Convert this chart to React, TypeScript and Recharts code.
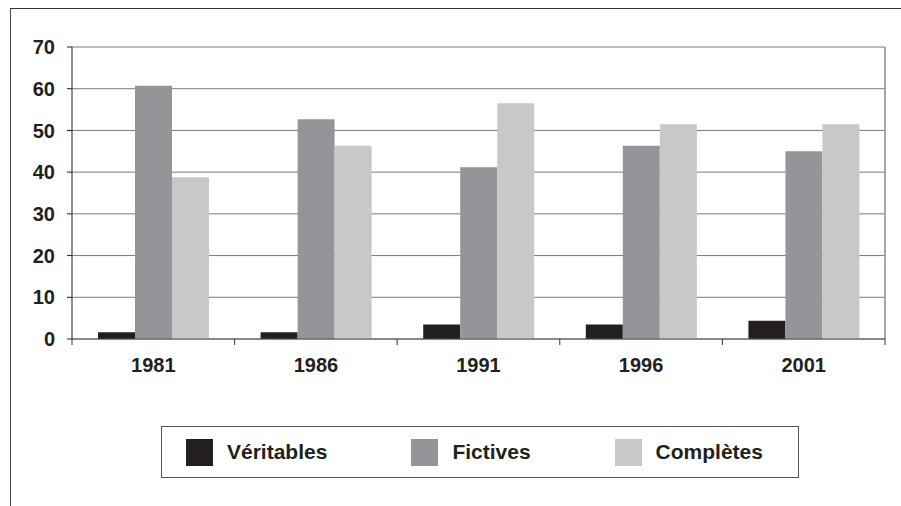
import React from 'react';
import { BarChart, Bar, XAxis, YAxis, CartesianGrid } from 'recharts';

const years = ['1981', '1986', '1991', '1996', '2001'];
const veritables = [1.6, 1.6, 3.5, 3.5, 4.4];
const fictives = [60.7, 52.7, 41.2, 46.3, 45.0];
const completes = [38.8, 46.3, 56.5, 51.5, 51.5];
const yTicks = [0, 10, 20, 30, 40, 50, 60, 70];

const series = [
  { key: 'veritables', name: 'Véritables', color: '#231f20' },
  { key: 'fictives', name: 'Fictives', color: '#939598' },
  { key: 'completes', name: 'Complètes', color: '#c7c8ca' },
];

const data = years.map((year, i) => ({
  year,
  veritables: veritables[i],
  fictives: fictives[i],
  completes: completes[i],
}));

const FONT = '"Liberation Sans", Arial, sans-serif';
const X_TICK_SIZE = 6;
const X_TICK_MARGIN = 13;

// label at the band centre, tick marks on the band edges (Excel style)
function YearTick(props: any) {
  const { x, y, payload, index, visibleTicksCount, width } = props;
  const half = width / visibleTicksCount / 2;
  const axisY = y - X_TICK_SIZE - X_TICK_MARGIN;
  return (
    <g>
      <line x1={x - half} x2={x - half} y1={axisY} y2={axisY + X_TICK_SIZE} stroke="#333" />
      {index === visibleTicksCount - 1 && (
        <line x1={x + half} x2={x + half} y1={axisY} y2={axisY + X_TICK_SIZE} stroke="#333" />
      )}
      <text
        x={x}
        y={y}
        dy="0.71em"
        textAnchor="middle"
        fill="#231f20"
        fontSize={20}
        fontWeight={700}
        fontFamily={FONT}
      >
        {payload.value}
      </text>
    </g>
  );
}

export default function App() {
  return (
    <div style={{ position: 'absolute', left: 0, top: 0, width: 901, height: 506, background: '#fff', overflow: 'hidden' }}>
      {/* outer frame: only top and left edges are visible */}
      <div
        style={{
          position: 'absolute',
          left: 10,
          top: 8,
          width: 900,
          height: 510,
          borderTop: '1.5px solid #333',
          borderLeft: '1.5px solid #444',
        }}
      />
      <BarChart
        width={901}
        height={506}
        data={data}
        margin={{ top: 47, right: 16, bottom: 137, left: 0 }}
        barCategoryGap="16%"
        barGap={0}
        style={{ position: 'absolute', left: 0, top: 0 }}
      >
        <CartesianGrid horizontal vertical={false} stroke="#7a7a7a" strokeWidth={1} />
        {/* right edge of the plot area */}
        <CartesianGrid
          horizontal={false}
          vertical
          stroke="#8a8a8a"
          strokeWidth={1.5}
          verticalCoordinatesGenerator={({ offset }: any) => [offset.left + offset.width]}
        />
        <XAxis
          dataKey="year"
          height={30}
          interval={0}
          axisLine={{ stroke: '#555' }}
          tickLine={{ stroke: 'none' }}
          tickSize={X_TICK_SIZE}
          tickMargin={X_TICK_MARGIN}
          tick={<YearTick />}
        />
        <YAxis
          width={72}
          domain={[0, 70]}
          ticks={yTicks}
          interval={0}
          axisLine={{ stroke: '#222' }}
          tickLine={{ stroke: '#222' }}
          tickSize={5}
          tickMargin={12}
          tick={{ fill: '#231f20', fontSize: 20, fontWeight: 700, fontFamily: FONT }}
        />
        {series.map((s) => (
          <Bar key={s.key} dataKey={s.key} name={s.name} fill={s.color} isAnimationActive={false} />
        ))}
      </BarChart>
      {/* legend box */}
      <div
        style={{
          position: 'absolute',
          left: 161,
          top: 426,
          width: 638,
          height: 52,
          border: '1px solid #555',
          display: 'flex',
          alignItems: 'center',
          paddingLeft: 24,
          boxSizing: 'border-box',
          fontFamily: FONT,
          fontWeight: 700,
          fontSize: 21,
          color: '#231f20',
        }}
      >
        {series.map((s, i) => (
          <div key={s.key} style={{ display: 'flex', alignItems: 'center', marginRight: i === 0 ? 84 : 84 }}>
            <div style={{ width: 27, height: 27, background: s.color, marginRight: 14 }} />
            <span>{s.name}</span>
          </div>
        ))}
      </div>
    </div>
  );
}
